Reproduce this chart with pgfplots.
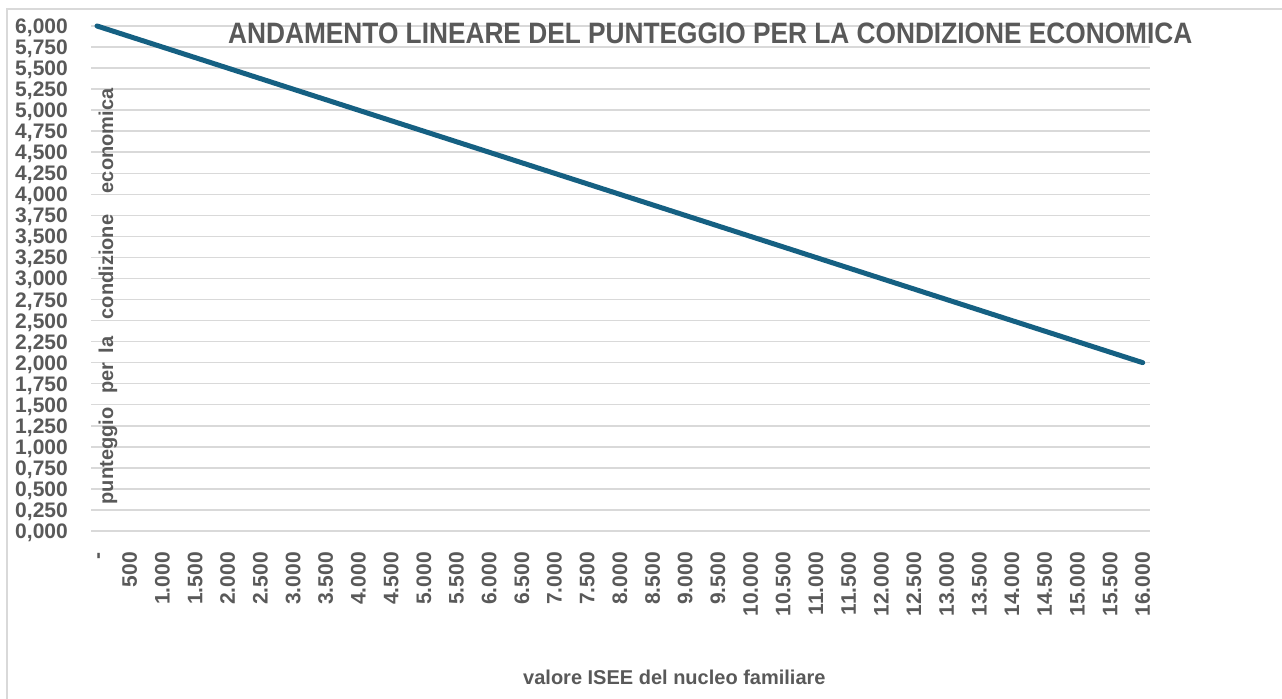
\documentclass[border=0pt]{standalone}
\usepackage{fontspec}
\setmainfont{Liberation Sans}
\usepackage{graphicx}
\usepackage{pgfplots}
\pgfplotsset{compat=1.18}
\definecolor{txtgray}{HTML}{595959}
\definecolor{gridgray}{HTML}{D9D9D9}
\definecolor{linecol}{HTML}{156082}
\begin{document}
\begin{tikzpicture}[x=1bp,y=1bp]
\path[use as bounding box, fill=white] (0,0) rectangle (1282,699);
\draw[gridgray, line width=2bp] (7,0) -- (7,690) -- (1282,690);
\begin{axis}[
  at={(91bp,168bp)}, anchor=south west,
  scale only axis, width=1059bp, height=505bp,
  xmin=-92, xmax=16112, ymin=0, ymax=6,
  clip=false,
  scaled x ticks=false, scaled y ticks=false,
  axis line style={draw=none},
  major tick length=0pt,
  tick style={draw=none},
  ymajorgrids, grid style={gridgray, line width=1.5bp},
  ytick={0,0.25,0.5,0.75,1,1.25,1.5,1.75,2,2.25,2.5,2.75,3,3.25,3.5,3.75,4,4.25,4.5,4.75,5,5.25,5.5,5.75,6},
  xtick={0,500,1000,1500,2000,2500,3000,3500,4000,4500,5000,5500,6000,6500,7000,7500,8000,8500,9000,9500,10000,10500,11000,11500,12000,12500,13000,13500,14000,14500,15000,15500,16000},
  xticklabels={{\vphantom{0}-\hspace{8bp}},500,1.000,1.500,2.000,2.500,3.000,3.500,4.000,4.500,5.000,5.500,6.000,6.500,7.000,7.500,8.000,8.500,9.000,9.500,10.000,10.500,11.000,11.500,12.000,12.500,13.000,13.500,14.000,14.500,15.000,15.500,16.000},
  xticklabel shift=21bp,
  xticklabel style={rotate=90, anchor=east, inner sep=0pt, text=txtgray, font=\fontsize{21bp}{21bp}\selectfont\bfseries},
  yticklabel style={anchor=base east, inner sep=0pt, xshift=-23bp, yshift=-7.5bp, text=txtgray, font=\fontsize{21bp}{21bp}\selectfont\bfseries,
    /pgf/number format/.cd, fixed, fixed zerofill, precision=3, use comma, assume math mode=true},
]
\addplot[linecol, line width=5bp, line cap=round, line join=round, mark=none] coordinates {
(0,6) (500,5.875) (1000,5.75) (1500,5.625) (2000,5.5) (2500,5.375) (3000,5.25) (3500,5.125)
(4000,5) (4500,4.875) (5000,4.75) (5500,4.625) (6000,4.5) (6500,4.375) (7000,4.25) (7500,4.125)
(8000,4) (8500,3.875) (9000,3.75) (9500,3.625) (10000,3.5) (10500,3.375) (11000,3.25) (11500,3.125)
(12000,3) (12500,2.875) (13000,2.75) (13500,2.625) (14000,2.5) (14500,2.375) (15000,2.25) (15500,2.125)
(16000,2)};
\end{axis}
\begin{scope}[every node/.style={rotate=90, anchor=base, inner sep=0pt, text=txtgray, font=\fontsize{20bp}{20bp}\selectfont\bfseries}]
\node at (113,699-141) {economica};
\node at (113,699-267) {condizione};
\node at (113,699-345) {la};
\node at (113,699-378) {per};
\node at (113,699-456) {punteggio};
\end{scope}
\node[anchor=base west, inner sep=0pt, text=txtgray] at (228,655.7) {\resizebox{964bp}{20.6bp}{\bfseries ANDAMENTO LINEARE DEL PUNTEGGIO PER LA CONDIZIONE ECONOMICA}};
\node[anchor=base west, inner sep=0pt, text=txtgray, font=\fontsize{20bp}{20bp}\selectfont\bfseries] at (523,14) {valore ISEE del nucleo familiare};
\end{tikzpicture}
\end{document}
